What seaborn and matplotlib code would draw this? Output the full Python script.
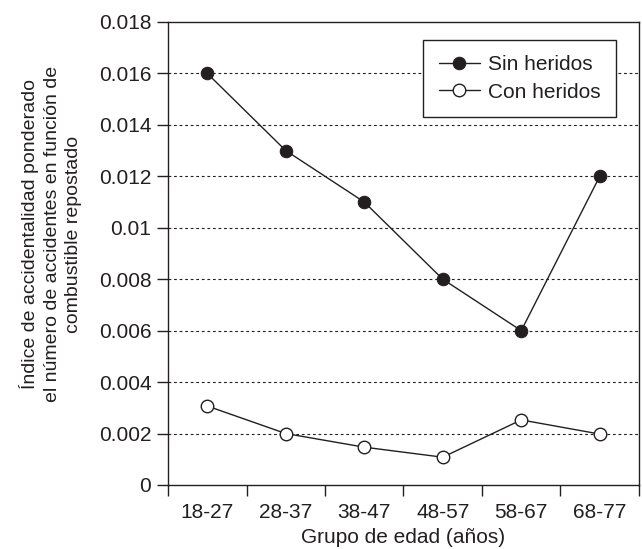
import numpy as np
import pandas as pd
import matplotlib
matplotlib.use("Agg")
import matplotlib.pyplot as plt
import seaborn as sns
from matplotlib.ticker import FixedLocator, NullFormatter, FixedFormatter

grupos = ["18-27", "28-37", "38-47", "48-57", "58-67", "68-77"]
sin_heridos = [0.016, 0.013, 0.011, 0.008, 0.006, 0.012]
con_heridos = [0.00307, 0.00200, 0.00147, 0.00108, 0.00253, 0.00198]
y_ticks = [0, 0.002, 0.004, 0.006, 0.008, 0.01, 0.012, 0.014, 0.016, 0.018]
y_tick_labels = ["0", "0.002", "0.004", "0.006", "0.008", "0.01", "0.012", "0.014", "0.016", "0.018"]

ink = "#231f20"
fs = 15

sns.set_style("ticks")
plt.rcParams["font.family"] = ["Liberation Sans", "DejaVu Sans"]
plt.rcParams["text.color"] = ink
plt.rcParams["axes.labelcolor"] = ink
plt.rcParams["xtick.color"] = ink
plt.rcParams["ytick.color"] = ink

df = pd.DataFrame({
    "Grupo": grupos * 2,
    "Valor": sin_heridos + con_heridos,
    "Serie": ["Sin heridos"] * 6 + ["Con heridos"] * 6,
})

fig = plt.figure(figsize=(6.42, 5.49), dpi=100)
ax = fig.add_axes([0.2617, 0.1166, 0.7336, 0.8434])

# grid lines first so the series sit on top
for v in y_ticks[1:-1]:
    ax.axhline(v, color=ink, lw=0.8, ls=(0, (2.5, 2.5)), zorder=1)

sns.lineplot(data=df[df["Serie"] == "Sin heridos"], x="Grupo", y="Valor",
             color=ink, lw=1.0, marker="o", markersize=9,
             markerfacecolor=ink, markeredgecolor=ink,
             label="Sin heridos", ax=ax, zorder=3)
sns.lineplot(data=df[df["Serie"] == "Con heridos"], x="Grupo", y="Valor",
             color=ink, lw=1.0, marker="o", markersize=9,
             markerfacecolor="white", markeredgecolor=ink, markeredgewidth=1.0,
             label="Con heridos", ax=ax, zorder=3)

ax.set_xlim(-0.5, 5.5)
ax.set_ylim(0, 0.018)

# ticks at group boundaries, labels centred on groups
ax.xaxis.set_major_locator(FixedLocator(np.arange(-0.5, 6, 1)))
ax.xaxis.set_major_formatter(NullFormatter())
ax.xaxis.set_minor_locator(FixedLocator(np.arange(6)))
ax.xaxis.set_minor_formatter(FixedFormatter(grupos))
ax.tick_params(axis="x", which="major", direction="out", length=8, width=1.0)
ax.tick_params(axis="x", which="minor", length=0, labelsize=fs, pad=13)

ax.set_yticks(y_ticks)
ax.set_yticklabels(y_tick_labels)
ax.tick_params(axis="y", direction="out", length=8, width=1.0, labelsize=fs, pad=4)

for s in ax.spines.values():
    s.set_color(ink)
    s.set_linewidth(1.0)

ax.set_xlabel("Grupo de edad (años)", fontsize=fs, labelpad=4)
ax.set_ylabel("Índice de accidentalidad ponderado\nel número de accidentes en función de\ncombustible repostado",
              fontsize=14, linespacing=1.35)
ax.yaxis.set_label_coords(-0.182, 0.542)

leg = ax.legend(loc="upper right", bbox_to_anchor=(0.952, 0.962), borderaxespad=0,
                fontsize=fs, frameon=True, fancybox=False, framealpha=1, edgecolor=ink,
                handlelength=2.0, handletextpad=0.38, borderpad=0.75, labelspacing=0.4)
leg.get_frame().set_linewidth(1.0)

fig.savefig("out.png", dpi=100)
